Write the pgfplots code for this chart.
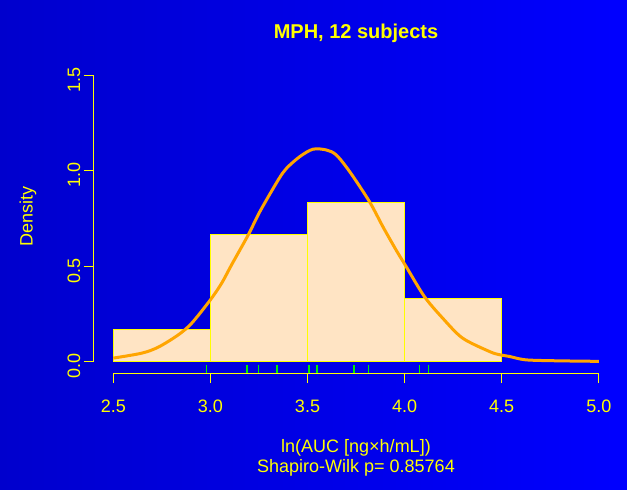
\documentclass[border=0pt]{standalone}
\usepackage{fontspec}
\setmainfont{Liberation Sans}
\usepackage{pgfplots}
\pgfplotsset{compat=1.18}
\definecolor{bisque}{RGB}{255,228,196}
\definecolor{rorange}{RGB}{255,165,0}
\definecolor{bgleft}{RGB}{0,0,205}
\definecolor{ryellow}{RGB}{255,255,0}
\definecolor{rgreen}{RGB}{0,240,0}
\begin{document}
\begin{tikzpicture}[x=1pt,y=1pt]
\useasboundingbox (0,0) rectangle (627,490);
\shade[left color=bgleft, right color=blue] (0,0) rectangle (627,490);
\begin{axis}[
  at={(93.9pt,116.8pt)}, anchor=south west,
  scale only axis, width=524.3pt, height=309.6pt,
  xmin=2.4, xmax=5.1, ymin=-0.06, ymax=1.56,
  axis line style={draw=none},
  xtick={2.5,3,3.5,4,4.5,5}, ytick={0,0.5,1,1.5},
  xtick pos=bottom, ytick pos=left,
  tick align=outside, major tick length=10pt,
  tick style={ryellow, line width=0.9pt},
  ticklabel style={font=\fontsize{18}{18}\selectfont, text=ryellow},
  /pgf/number format/assume math mode=true,
  /pgf/number format/fixed,
  /pgf/number format/fixed zerofill,
  /pgf/number format/precision=1,
  xticklabel style={yshift=-13pt},
  yticklabel style={rotate=90, anchor=south, xshift=-4.5pt},
  clip=false,
]
\draw[ryellow, line width=0.9pt] (axis cs:2.5,-0.06) -- (axis cs:5,-0.06);
\draw[ryellow, line width=0.9pt] (axis cs:2.4,0) -- (axis cs:2.4,1.5);
\addplot[ybar interval, fill=bisque, draw=ryellow, line width=1pt] coordinates {
(2.5,0.16667) (3,0.66667) (3.5,0.83333) (4,0.33333) (4.5,0.33333)};
\addplot[rorange, line width=3pt, smooth] coordinates {
(2.5,0.019) (2.647,0.045) (2.733,0.077) (2.835,0.141) (2.904,0.202)
(3.0,0.324) (3.058,0.411) (3.109,0.507) (3.195,0.664) (3.255,0.786)
(3.349,0.951) (3.392,1.012) (3.460,1.073) (3.528,1.112) (3.597,1.108)
(3.648,1.082) (3.717,0.995) (3.819,0.838) (3.888,0.707) (3.956,0.585)
(4.008,0.498) (4.102,0.341) (4.196,0.228) (4.298,0.124) (4.436,0.054)
(4.487,0.037) (4.538,0.028) (4.623,0.010) (4.777,0.005) (5.0,0.002)};
\addplot[only marks, mark=|, mark size=4.1pt, color=rgreen, mark options={draw=rgreen, line width=1.3pt}] coordinates {
(2.981,-0.0385) (3.188,-0.0385) (3.246,-0.0385) (3.340,-0.0385) (3.346,-0.0385)
(3.508,-0.0385) (3.549,-0.0385) (3.739,-0.0385) (3.813,-0.0385) (4.077,-0.0385) (4.124,-0.0385)};
\end{axis}
\node[text=ryellow, font=\bfseries\fontsize{20}{20}\selectfont, anchor=base] at (356,451.2) {MPH, 12 subjects};
\node[text=ryellow, font=\fontsize{18}{18}\selectfont, anchor=base] at (356,37.3) {ln(AUC [ng×h/mL])};
\node[text=ryellow, font=\fontsize{18}{18}\selectfont, anchor=base] at (356,17.3) {Shapiro-Wilk p= 0.85764};
\node[text=ryellow, font=\fontsize{18}{18}\selectfont, rotate=90, anchor=base] at (32.7,273.3) {Density};
\end{tikzpicture}
\end{document}
